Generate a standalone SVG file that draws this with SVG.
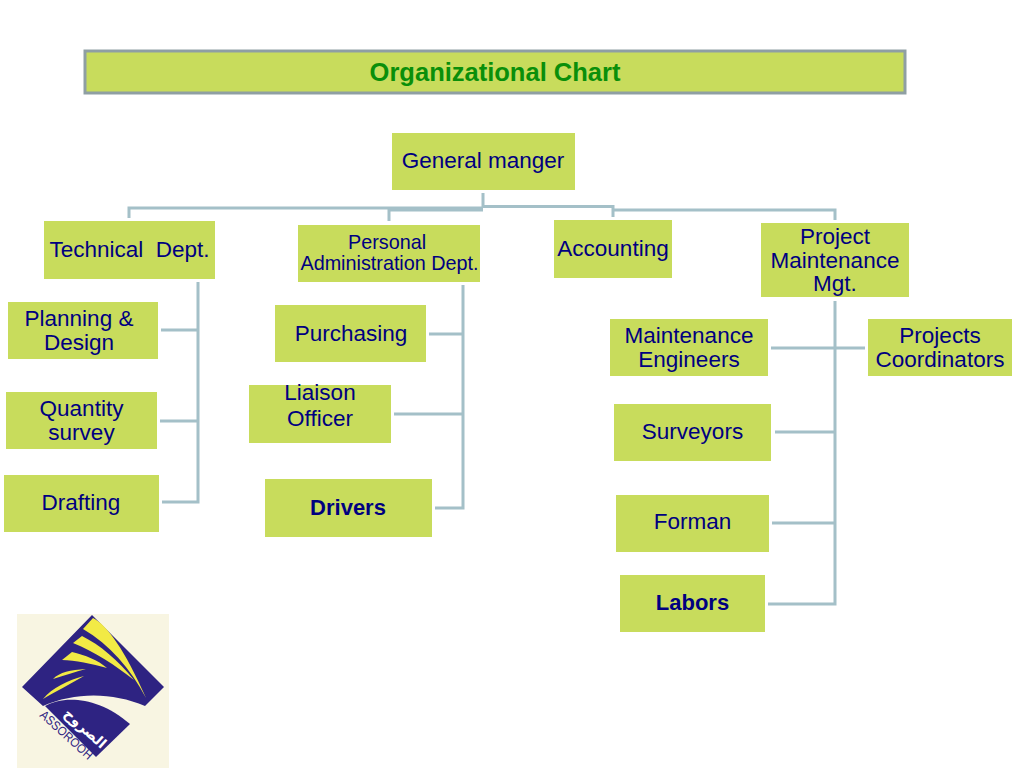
<svg xmlns="http://www.w3.org/2000/svg" width="1024" height="768" viewBox="0 0 1024 768">
<style>
text{font-family:"Liberation Sans",Arial,sans-serif;fill:#000080;text-anchor:middle}
.b{fill:#c8dc5c}
.t{font-size:22.5px}
.s{font-size:19.800px}
.bold{font-weight:bold;font-size:22px}
.c{fill:none;stroke:#a4c0c8;stroke-width:3}
.y{fill:#f2ea45}
.n{fill:#2e2382}
</style>
<rect width="1024" height="768" fill="#fff"/>
<g id="connectors">
<path class="c" d="M129 218V208H483M483 193V208M389 221V210H483M483 206.500H613V217M613 210H835V220"/>
<path class="c" d="M198 282V502H162M161 330H198M160 421H198"/>
<path class="c" d="M463 285V508H435M429 334H463M394 414H463"/>
<path class="c" d="M835 301V604H768M771 348H865M775 432H835M772 523H835"/>
</g>
<g id="title"><rect x="85" y="51" width="820" height="42" fill="#c8dc5c" stroke="#8f9fa3" stroke-width="3"/><text x="495" y="81" style="font-size:25.500px;font-weight:bold;fill:#0a8f0a">Organizational Chart</text></g>
<g id="general-manager"><rect class="b" x="392" y="133" width="183" height="57"/><text class="t" x="483" y="168">General manger</text></g>
<g id="technical-dept"><rect class="b" x="44" y="221" width="171" height="58"/><text class="t" x="129.500" y="257" xml:space="preserve">Technical  Dept.</text></g>
<g id="personal-admin"><rect class="b" x="298" y="225" width="182" height="57"/><text class="s" x="387" y="249">Personal</text><text class="s" x="389.500" y="270">Administration Dept.</text></g>
<g id="accounting"><rect class="b" x="554" y="220" width="118" height="58"/><text class="t" x="613" y="256">Accounting</text></g>
<g id="project-maintenance"><rect class="b" x="761" y="223" width="148" height="74"/><text class="t" x="835" y="244">Project</text><text class="t" x="835" y="268">Maintenance</text><text class="t" x="835" y="291">Mgt.</text></g>
<g id="planning"><rect class="b" x="8" y="302" width="150" height="57"/><text class="t" x="79" y="326">Planning &amp;</text><text class="t" x="79" y="350">Design</text></g>
<g id="quantity"><rect class="b" x="6" y="392" width="151" height="57"/><text class="t" x="81.500" y="416">Quantity</text><text class="t" x="81.500" y="440">survey</text></g>
<g id="drafting"><rect class="b" x="4" y="475" width="155" height="57"/><text class="t" x="81" y="510">Drafting</text></g>
<g id="purchasing"><rect class="b" x="275" y="305" width="151" height="57"/><text class="t" x="351" y="341">Purchasing</text></g>
<g id="liaison"><rect class="b" x="249" y="385" width="142" height="58"/><text class="t" x="320" y="400">Liaison</text><text class="t" x="320" y="426">Officer</text></g>
<g id="drivers"><rect class="b" x="265" y="479" width="167" height="58"/><text class="bold" x="348" y="515">Drivers</text></g>
<g id="maintenance-engineers"><rect class="b" x="610" y="319" width="158" height="57"/><text class="t" x="689" y="342.500">Maintenance</text><text class="t" x="689" y="366.500">Engineers</text></g>
<g id="projects-coordinators"><rect class="b" x="868" y="319" width="144" height="57"/><text class="t" x="940" y="342.500">Projects</text><text class="t" x="940" y="366.500">Coordinators</text></g>
<g id="surveyors"><rect class="b" x="614" y="404" width="157" height="57"/><text class="t" x="692.500" y="439">Surveyors</text></g>
<g id="forman"><rect class="b" x="616" y="495" width="153" height="57"/><text class="t" x="692.500" y="529">Forman</text></g>
<g id="labors"><rect class="b" x="620" y="575" width="145" height="57"/><text class="bold" x="692.500" y="610">Labors</text></g>
<g id="logo">
<rect x="17" y="614" width="152" height="154" fill="#f8f5e2"/>
<path class="n" d="M22 687L92 615L164 687L145 706C112 692 75 692 43 706Z"/>
<path class="n" d="M45 706C62 696 97 695 130 724L96 757Z"/>
<path class="y" d="M93 618C107 625 125 650 146 698C130 668 110 645 83 629Z"/>
<path class="y" d="M82 636C100 645 118 660 134 680C115 665 95 652 73 643Z"/>
<path class="y" d="M72 652C85 655 98 660 107 668C92 664 75 660 62 660Z"/>
<path class="y" d="M53 679C60 672 70 670 86 669C75 672 65 675 53 679Z"/>
<path class="y" d="M43 699C52 688 68 680 84 676C70 684 55 692 43 699Z"/>
<text transform="translate(82 732) rotate(42)" style="font-family:'DejaVu Sans',sans-serif;font-size:14px;font-weight:bold;fill:#fff" xml:lang="ar">الصروح</text>
<text transform="translate(39 716) rotate(42)" textLength="66" lengthAdjust="spacingAndGlyphs" style="font-size:12.500px;fill:#2e2382;text-anchor:start">ASSOROOH</text>
</g>
</svg>
